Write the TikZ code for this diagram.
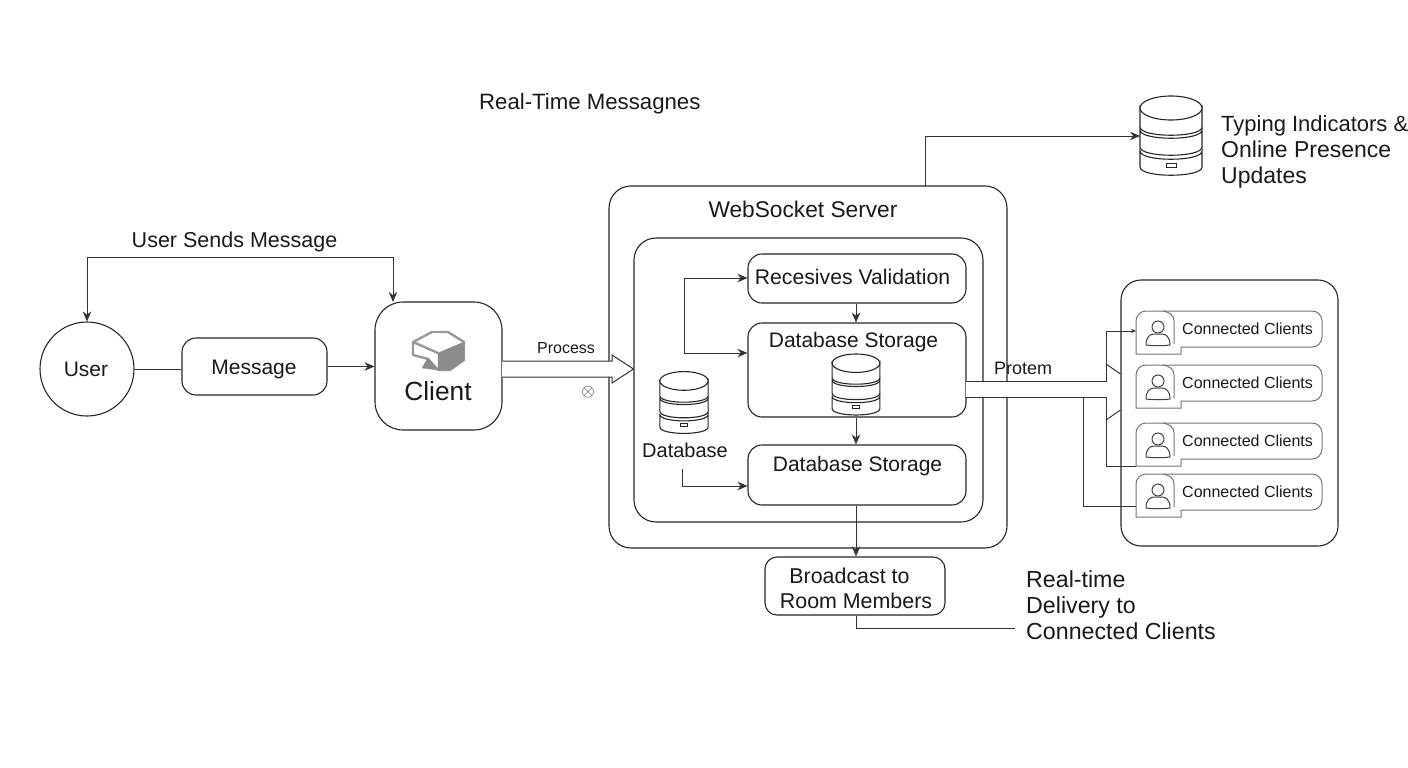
\documentclass[tikz,border=0pt]{standalone}
\usepackage{fontspec}
\setmainfont{Liberation Sans}
\usetikzlibrary{arrows.meta, calc}

\newcommand{\fsize}[2]{\fontsize{#1}{#2}\selectfont}

\tikzset{
	link/.style={line width=1pt, draw=black!80},
	flow/.style={link, -{Stealth[length=10pt, width=8.5pt]}},
	box/.style={draw=black!85, line width=1.1pt, fill=white, rounded corners=14pt, inner sep=0pt},
	txt/.style={inner sep=0pt, text=black!90},
	cardline/.style={line width=1pt, draw=black!55},
	dbicon/.pic={
		% three bands, bottom first
		\foreach \a/\b in {16/32, -5/12, -27/-8} {
			\draw[line width=1.1pt, draw=black!85, fill=white] (-31,\a) -- (-31,\b) .. controls (-31,\b+11) and (31,\b+11) .. (31,\b) -- (31,\a) .. controls (31,\a+11) and (-31,\a+11) .. cycle;
		}
		\draw[line width=1.1pt, draw=black!85, fill=white] (0,-27) ellipse [x radius=31, y radius=12];
		\draw[line width=1pt, draw=black!85] (-5,28) rectangle (5,32);
		\coordinate (-west) at (-31,1);
	},
	clientcard/.pic={
		\draw[cardline] (0,43) -- (45,43) -- (45,36) {[rounded corners=10pt] -- (186,36) -- (186,0) -- (0,0) -- (0,20)} -- cycle;
		\draw[cardline] (27,0) .. controls (33,1) and (38,4) .. (38,10) -- (38,33);
		\draw[line width=1pt, draw=black!75] (22,16) circle (6);
		\draw[line width=1pt, draw=black!75] (10,34) .. controls (10,26) and (14,23) .. (18,23) -- (26,23) .. controls (30,23) and (34,26) .. (34,34) .. controls (26,35) and (18,35) .. (10,34) -- cycle;
		\node[txt, anchor=west, font=\fsize{16}{18}] (-label) at (46,18) {Connected Clients};
		\coordinate (-west) at (0,20);
		\coordinate (-low) at (0,32);
		\coordinate (-tail) at (0,43);
	},
}

\begin{document}
\begin{tikzpicture}[x=1pt, y=-1pt]
	\useasboundingbox (0,0) rectangle (1408,768);
	\node[txt, anchor=west, font=\fsize{22.2}{24}] (title) at (479,103.5) {Real-Time Messagnes};
	% left side
	\node[circle, draw=black!85, line width=1.1pt, minimum size=94pt, inner sep=0pt] (user) at (87,369) {};
	\node[txt, font=\fsize{21}{24}] (username) at (86,369.5) {User};
	\node[box, minimum width=145pt, minimum height=57pt] (message) at (254.5,366.5) {};
	\node[txt, font=\fsize{21}{24}] (messagetext) at (254,369) {Message};
	\node[box, rounded corners=28pt, minimum width=127pt, minimum height=128pt] (client) at (438.5,366) {};
	\node[txt, font=\fsize{26.3}{30}] (clientname) at (438,391) {Client};
	\node[txt, font=\fsize{21.5}{24}] (sends) at (234.5,241.5) {User Sends Message};
	\coordinate (clientin) at (393,302);
	\coordinate (sendtop) at (393,257);
	\draw[link] (user.east) -- (user.east -| message.west);
	\draw[flow] (message.east) -- (message.east -| client.west);
	\draw[flow, {Stealth[length=10pt, width=8.5pt]}-{Stealth[length=10pt, width=8.5pt]}] (user.north) |- (sendtop) -- (clientin);
	% client icon
	\draw[line width=2.4pt, draw=black!40, fill=white, line join=round] (432,332) -- (448,332) -- (464,342) -- (464,360) -- (450,370) -- (438,370) -- (428,359) -- (413,355) -- (413,342) -- cycle;
	\draw[draw=black!45, fill=black!45, line join=round] (438,353) -- (464,342) -- (464,360) -- (450,370) -- (438,370) -- cycle;
	\draw[line width=2.4pt, draw=black!40] (413,342) -- (438,353);
	\draw[draw=black!45, fill=black!45] (422,368) -- (428,358) -- (438,370) -- cycle;
	% server
	\node[box, rounded corners=22pt, fill=none, minimum width=398pt, minimum height=362pt] (server) at (808,367) {};
	\node[box, rounded corners=22pt, fill=none, minimum width=349pt, minimum height=284pt] (inner) at (808.5,380) {};
	\node[txt, font=\fsize{22.7}{24}] (servername) at (803,209.5) {WebSocket Server};
	\node[box, minimum width=218pt, minimum height=49pt] (validation) at (857,278.5) {};
	\node[txt, font=\fsize{21.2}{24}] (validationtext) at (852.5,277) {Recesives Validation};
	\node[box, minimum width=218pt, minimum height=94pt] (storage) at (857,370) {};
	\node[txt, font=\fsize{21}{24}] (storagetext) at (853.5,342.5) {Database Storage};
	\node[box, minimum width=218pt, minimum height=60pt] (storagelow) at (857,475) {};
	\node[txt, font=\fsize{21}{24}] (storagelowtext) at (857.5,466.5) {Database Storage};
	\pic[scale=0.77] (storagedb) at (856,384) {dbicon};
	\pic[scale=0.78] (leftdb) at (684,402) {dbicon};
	\node[txt, font=\fsize{20}{22}] (dbname) at (685,450) {Database};
	\coordinate (loopa) at (684,278);
	\coordinate (loopb) at (684,353);
	\coordinate (dbout) at (682,469);
	\draw[flow] (loopb) -- (loopa) -- (loopa -| validation.west);
	\draw[flow] (loopa) -- (loopb) -- (loopb -| storage.west);
	\draw[flow] (dbout) |- (storagelow.west |- 0,486);
	\draw[flow] (validation.south -| 856,0) -- (storage.north -| 856,0);
	\draw[flow] (storage.south -| 856,0) -- (storagelow.north -| 856,0);
	% broadcast
	\node[box, rounded corners=12pt, minimum width=180pt, minimum height=58pt] (broadcast) at (855,586) {};
	\node[txt, align=center, font=\fsize{21.4}{25}] (broadcasttext) at (856,588) {Broadcast to\hspace*{13pt}\\Room Members};
	\node[txt, anchor=west, align=left, font=\fsize{23.2}{26}] (delivery) at (1026,605) {Real-time\\Delivery to\\Connected Clients};
	\coordinate (deliveryend) at (1015,628);
	\draw[flow] (storagelow.south -| 856,0) -- (broadcast.north -| 856,0);
	\draw[link] (broadcast.south -| 856,0) |- (deliveryend);
	% typing indicators
	\pic (typingdb) at (1171,135) {dbicon};
	\node[txt, anchor=west, align=left, font=\fsize{23}{26}] (typing) at (1221,152) {{\fsize{22}{26}Typing Indicators \&}\\Online Presence\\Updates};
	\coordinate (serverout) at (925,186);
	\draw[flow] (serverout) |- (typingdb-west);
	% connected clients
	\node[box, rounded corners=20pt, fill=none, minimum width=217pt, minimum height=266pt] (panel) at (1229.5,413) {};
	\foreach \i/\y in {1/311, 2/365, 3/423, 4/474} {
		\pic (card\i) at (1136,\y) {clientcard};
	}
	\coordinate (banda) at (966,381);
	\coordinate (bandb) at (966,397);
	\coordinate (huba) at (1106,381);
	\coordinate (hubb) at (1106,397);
	\coordinate (branch) at (1083,397);
	\fill[white] (banda) rectangle (hubb);
	\draw[link, -{Stealth[length=5pt, width=4pt]}] (banda) -- (huba) |- (card1-west);
	\draw[link] (bandb) -- (hubb) |- (card3-tail);
	\draw[link] (branch) |- (card4-low);
	\coordinate (ticka) at (1106,364);
	\coordinate (tickb) at (1106,420);
	\draw[link] (ticka) -- (panel.west |- 0,374);
	\draw[link] (tickb) -- (panel.west |- 0,410);
	\node[txt, font=\fsize{18}{20}] (protem) at (1023,368) {Protem};
	% process arrow
	\coordinate (procstart) at (502,361);
	\coordinate (proctip) at (633.5,369);
	\fill[white] (procstart) -- (612,361) -- (612,355) -- (proctip) -- (612,383) -- (612,377) -- (502,377) -- cycle;
	\draw[link] (procstart) -- (612,361) -- (612,355) -- (proctip) -- (612,383) -- (612,377) -- (502,377);
	\node[txt, font=\fsize{16}{18}] (process) at (566,348) {Process};
	\node[txt, font=\fsize{17}{19}] (cross) at (588,392) {$\otimes$};
\end{tikzpicture}
\end{document}
